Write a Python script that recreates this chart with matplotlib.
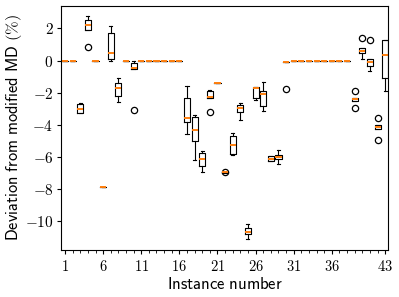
import matplotlib
matplotlib.use("Agg")
import matplotlib.pyplot as plt

plt.rcParams['mathtext.fontset'] = 'cm'

# instance numbers
instances = list(range(1, 44))

# box statistics (percent)
q1 = [0, 0, -3.25, 1.92, 0, -7.85, 0.08, -2.2, 0, -0.54,
      0, 0, 0, 0, 0, 0, -3.85, -5.02, -6.54, -2.35,
      -1.37, -7.0, -5.83, -3.19, -10.8, -2.31, -2.81, -6.25, -6.14, -0.06,
      0, 0, 0, 0, 0, 0, 0, 0, -2.52, 0.46,
      -0.37, -4.27, -1.06]
med = [0, 0, -3.0, 2.19, 0, -7.85, 0.48, -1.73, 0, -0.47,
       0, 0, 0, 0, 0, 0, -3.56, -4.35, -6.1, -2.25,
       -1.37, -6.97, -5.23, -2.98, -10.69, -1.73, -2.1, -6.1, -6.0, -0.06,
       0, 0, 0, 0, 0, 0, 0, 0, -2.41, 0.6,
       -0.12, -4.16, 0.36]
q3 = [0, 0, -2.72, 2.5, 0, -7.85, 1.71, -1.37, 0, -0.14,
      0, 0, 0, 0, 0, 0, -2.35, -3.54, -5.75, -1.9,
      -1.37, -6.93, -4.71, -2.77, -10.44, -1.66, -1.87, -5.94, -5.85, -0.06,
      0, 0, 0, 0, 0, 0, 0, 0, -2.31, 0.77,
      0.1, -4.04, 1.29]
whislo = [0, 0, -3.28, 1.92, 0, -7.85, 0.0, -2.56, 0, -0.54,
          0, 0, 0, 0, 0, 0, -4.6, -6.2, -6.94, -2.35,
          -1.37, -7.0, -5.87, -3.7, -11.14, -2.46, -3.14, -6.27, -6.41, -0.06,
          0, 0, 0, 0, 0, 0, 0, 0, -2.52, 0.1,
          -0.64, -4.27, -1.87]
whishi = [0, 0, -2.67, 2.75, 0, -7.85, 2.15, -1.06, 0, 0.0,
          0, 0, 0, 0, 0, 0, -1.56, -3.37, -5.66, -1.85,
          -1.37, -6.93, -4.54, -2.66, -10.2, -1.62, -1.31, -5.92, -5.58, -0.06,
          0, 0, 0, 0, 0, 0, 0, 0, -2.31, 0.77,
          0.1, -4.04, 1.29]
fliers = {4: [0.84], 10: [-3.05], 20: [-3.19], 22: [-6.92], 30: [-1.79],
          39: [-1.9, -2.98], 40: [1.4], 41: [1.25], 42: [-3.56, -4.97]}

xticks = [1, 6, 11, 16, 21, 26, 31, 36, 43]
yticks = [-10, -8, -6, -4, -2, 0, 2]

stats = []
for i, n in enumerate(instances):
    stats.append(dict(q1=q1[i], med=med[i], q3=q3[i], whislo=whislo[i],
                      whishi=whishi[i], fliers=fliers.get(n, [])))

fig = plt.figure(figsize=(3.99, 2.97), dpi=100)
ax = fig.add_axes([0.153, 0.158, 0.820, 0.822])

ax.bxp(stats, positions=instances, widths=0.8,
       boxprops=dict(color='black', linewidth=0.8),
       whiskerprops=dict(color='black', linewidth=0.8),
       capprops=dict(color='black', linewidth=0.8),
       medianprops=dict(color='#ff7f0e', linewidth=1.4, solid_capstyle='butt'),
       flierprops=dict(marker='o', markersize=4.5, markerfacecolor='none',
                       markeredgecolor='black', markeredgewidth=0.9))

ax.set_xlim(0.48, 43.4)
ax.set_ylim(-11.8, 3.4)
ax.set_xticks(xticks, labels=[f'${t}$' for t in xticks])
ax.set_xticks(instances, minor=True)
ax.set_yticks(yticks, labels=[f'${t}$' for t in yticks])
ax.tick_params(axis='both', which='major', length=3, width=0.8)
ax.tick_params(axis='x', labelsize=10.5)
ax.tick_params(axis='y', labelsize=11, pad=2.5)
ax.tick_params(axis='x', which='minor', length=2, width=0.6)

ax.set_xlabel(r'$\mathsf{Instance\ number}$', fontsize=12, labelpad=1)
ax.set_ylabel(r'$\mathsf{Deviation\ from\ modified\ MD}\ (\%)$', fontsize=11.8)
ax.yaxis.set_label_coords(-0.112, 0.5)

fig.savefig('out.png', dpi=100)
